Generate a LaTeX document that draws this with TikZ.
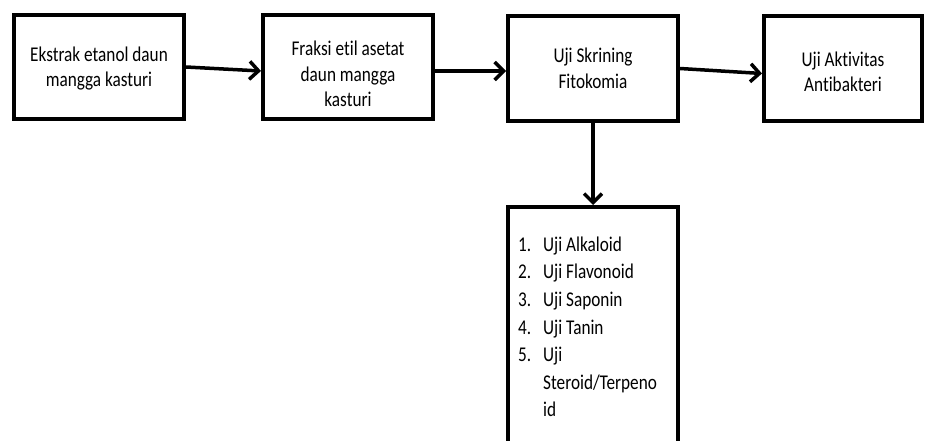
\documentclass[tikz,border=0pt]{standalone}
\usepackage{fontspec}
\setmainfont[FakeStretch=0.82,Ligatures={NoCommon,NoContextual},RawFeature={-liga;-clig}]{Carlito}
\usetikzlibrary{arrows.meta,positioning}
\newcommand\tI{t\kern0pt i}
\tikzset{
  box/.style={draw=black, line width=4pt, fill=white, minimum width=170pt, minimum height=104pt, inner sep=0pt},
  txt/.style={inner sep=0pt, align=center, font=\fontsize{21}{25.5}\selectfont},
  conn/.style={draw=black, line width=3.5pt, -{Straight Barb[length=9pt,width=18pt]}},
}
\begin{document}
\begin{tikzpicture}[x=1pt,y=-1pt]
\useasboundingbox (0,0) rectangle (926,441);
\fill[white] (0,0) rectangle (926,441);
\clip (0,0) rectangle (926,441);
\node[box] (b1) at (99,67) {};
\node[box] (b2) at (348,67) {};
\node[box, minimum height=105pt] (b3) at (593,68.5) {};
\node[box, minimum width=158pt, minimum height=105pt] (b4) at (843,68.5) {};
\node[box, anchor=north, minimum height=300pt] (b5) at (593,205) {};
\node[txt] (t1) at ([yshift=-1.5pt]b1.center) {Ekstrak etanol daun\\mangga kasturi};
\node[txt] (t2) at ([yshift=-7pt]b2.center) {Fraksi e\tI l asetat\\daun mangga\\kasturi};
\node[txt] (t3) at (b3.center) {Uji Skrining\\Fitokomia};
\node[txt] (t4) at ([yshift=-3.5pt]b4.center) {Uji Ak\tI vitas\\An\tI bakteri};
\node[anchor=north west, inner sep=0pt, align=left, font=\fontsize{21}{27.6}\selectfont] (list) at (518,236.5)
  {\makebox[25pt][l]{1.}Uji Alkaloid\\
   \makebox[25pt][l]{2.}Uji Flavonoid\\
   \makebox[25pt][l]{3.}Uji Saponin\\
   \makebox[25pt][l]{4.}Uji Tanin\\
   \makebox[25pt][l]{5.}Uji\\
   \makebox[25pt][l]{}Steroid/Terpeno\\
   \makebox[25pt][l]{}id};
\draw[conn] (b1.east) -- ([yshift=-4pt]b2.west);
\draw[conn] ([yshift=-4pt]b2.east) -- ([yshift=-2.5pt]b3.west);
\draw[conn] (b3.east) -- ([yshift=-5pt]b4.west);
\draw[conn] (b3.south) -- (b5.north);
\end{tikzpicture}
\end{document}
